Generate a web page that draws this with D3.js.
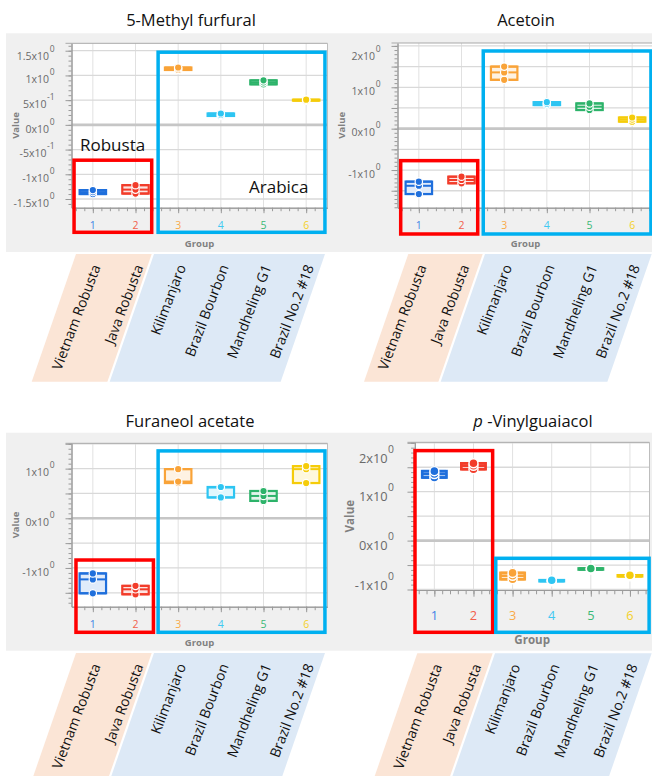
<!DOCTYPE html>
<html>
<head>
<meta charset="utf-8">
<script src="https://cdn.jsdelivr.net/npm/d3@7/dist/d3.min.js"></script>
<style>
  html, body { margin: 0; padding: 0; background: #ffffff; }
  svg { display: block; font-family: "Open Sans", "Noto Sans", sans-serif; }
</style>
</head>
<body>
<svg id="chart" width="652" height="776"></svg>
<script>
// ---- data -------------------------------------------------------------
const groups = [1, 2, 3, 4, 5, 6];
const groupNames = ["Vietnam Robusta", "Java Robusta", "Kilimanjaro",
                    "Brazil Bourbon", "Mandheling G1", "Brazil No.2 #18"];
const groupColors = ["#1f6fdc", "#f23c2a", "#f9a338", "#2ec5f2", "#2db36a", "#f5cc0a"];
const labelColors = ["#3f82e6", "#f2604c", "#f9aa48", "#3fc9f2", "#3bb977", "#f4d02a"];

// replicate values (autoscaled) per group
const methylFurfural = [[-1.32, -1.36, -1.40], [-1.22, -1.31, -1.39], [1.11, 1.14, 1.16],
                        [0.18, 0.20, 0.23], [0.82, 0.86, 0.90], [0.49, 0.50, 0.51]];
const acetoin = [[-1.28, -1.38, -1.58], [-1.16, -1.24, -1.32], [1.18, 1.36, 1.50],
                 [0.57, 0.60, 0.64], [0.45, 0.53, 0.61], [0.17, 0.22, 0.27]];
const furaneolAcetate = [[-1.11, -1.23, -1.51], [-1.36, -1.43, -1.53], [0.71, 0.74, 0.99],
                         [0.42, 0.62, 0.63], [0.35, 0.45, 0.55], [0.71, 0.99, 1.05]];
const vinylguaiacol = [[1.29, 1.36, 1.42], [1.46, 1.53, 1.58], [-0.66, -0.72, -0.79],
                       [-0.83, -0.82, -0.81], [-0.59, -0.58, -0.57], [-0.73, -0.72, -0.71]];

// y tick values and their "mantissa x10^exponent" labels
const mfTicks = [-1.5, -1, -0.5, 0, 0.5, 1, 1.5];
const mfTickLabels = [["-1.5", "0"], ["-1", "0"], ["-5", "-1"], ["0", "0"], ["5", "-1"], ["1", "0"], ["1.5", "0"]];
const acTicks = [-1, 0, 1, 2];
const acTickLabels = [["-1", "0"], ["0", "0"], ["1", "0"], ["2", "0"]];
const faTicks = [-1, 0, 1];
const faTickLabels = [["-1", "0"], ["0", "0"], ["1", "0"]];
const vgTicks = [-1, 0, 1, 2];
const vgTickLabels = [["-1", "0"], ["0", "0"], ["1", "0"], ["2", "0"]];

// ---- panels -----------------------------------------------------------
const panels = [
  { title: [["", "5-Methyl furfural"]], titleX: 191, titleY: 26,
    values: methylFurfural, ticks: mfTicks, tickLabels: mfTickLabels,
    grid: [-1.5, -1, -0.5, 0, 0.5, 1, 1.5], domain: [-1.676, 1.65],
    l: 71.5, r: 327.5, t: 43.3, b: 207.7, k: 1,
    red: [0.56, 2.38, -0.715], blue: [2.53, 6.44, 1.47], boxBottom: 232.3,
    strip: { top: 254, p0: 76, p1: 151.7, b0: 154, b1: 325 },
    notes: true },
  { title: [["", "Acetoin"]], titleX: 526, titleY: 26,
    values: acetoin, ticks: acTicks, tickLabels: acTickLabels,
    grid: [-1.5, -1, -0.5, 0, 0.5, 1, 1.5, 2], domain: [-1.91, 2.07],
    l: 397.5, r: 653.5, t: 43, b: 207.7, k: 1,
    red: [0.575, 2.38, -0.773], blue: [2.51, 6.44, 1.877], boxBottom: 234,
    strip: { top: 254, p0: 408.3, p1: 482.7, b0: 485, b1: 651.7 } },
  { title: [["", "Furaneol acetate"]], titleX: 190, titleY: 427,
    values: furaneolAcetate, ticks: faTicks, tickLabels: faTickLabels,
    grid: [-1.5, -1, -0.5, 0, 0.5, 1, 1.5], domain: [-1.78, 1.51],
    l: 71.5, r: 327.5, t: 443.3, b: 606.7, k: 1,
    red: [0.605, 2.42, -0.84], blue: [2.53, 6.44, 1.357], boxBottom: 632.3,
    strip: { top: 653, p0: 76, p1: 151.7, b0: 154, b1: 325 } },
  { title: [["italic", "p"], ["", " -Vinylguaiacol"]], titleX: 533, titleY: 427,
    values: vinylguaiacol, ticks: vgTicks, tickLabels: vgTickLabels,
    grid: [-1, -0.5, 0, 0.5, 1, 1.5, 2], domain: [-1.01, 2.01],
    l: 414.8, r: 649.5, t: 442.3, b: 590, k: 1.22,
    red: [0.505, 2.49, 1.84], blue: [2.57, 6.49, -0.362], boxBottom: 632.3,
    strip: { top: 653.3, p0: 417.3, p1: 492.7, b0: 495, b1: 651.7 } }
];

const svg = d3.select("#chart");

// grey chart backgrounds for both rows
svg.append("rect").attr("x", 6).attr("y", 33.3).attr("width", 646).attr("height", 218.7).attr("fill", "#f0f0f0");
svg.append("rect").attr("x", 6).attr("y", 432.7).attr("width", 646).attr("height", 218).attr("fill", "#f0f0f0");

// quartile with (n+1)p positioning, clamped to the data range
function quart(sorted, p) {
  const n = sorted.length;
  let pos = p * (n + 1);
  pos = Math.max(1, Math.min(n, pos));
  const lo = Math.floor(pos), hi = Math.ceil(pos);
  return sorted[lo - 1] + (pos - lo) * (sorted[hi - 1] - sorted[lo - 1]);
}

const slant = 44.3, stripH = 127.7;

panels.forEach(P => {
  const k = P.k;
  const g = svg.append("g");
  const x = d3.scaleLinear().domain([0.5, 6.5]).range([P.l, P.r]);
  const y = d3.scaleLinear().domain(P.domain).range([P.b, P.t]);
  const step = x(2) - x(1);

  // title
  const tt = g.append("text").attr("x", P.titleX).attr("y", P.titleY)
    .attr("text-anchor", "middle").attr("font-size", 16.5).attr("fill", "#111");
  P.title.forEach(([style, s]) => tt.append("tspan").attr("font-style", style || null).text(s));

  // plot area
  g.append("rect").attr("x", P.l).attr("y", P.t).attr("width", P.r - P.l).attr("height", P.b - P.t)
    .attr("fill", "#ffffff");

  // vertical grid at groups
  g.append("g").selectAll("line").data(groups).join("line")
    .attr("x1", d => x(d)).attr("x2", d => x(d)).attr("y1", P.t).attr("y2", P.b)
    .attr("stroke", "#e1e1e1").attr("stroke-width", 1);
  // horizontal grid
  g.append("g").selectAll("line").data(P.grid.filter(v => v !== 0)).join("line")
    .attr("x1", P.l).attr("x2", P.r).attr("y1", d => y(d)).attr("y2", d => y(d))
    .attr("stroke", "#d9d9d9").attr("stroke-width", 1.3);
  g.append("line").attr("x1", P.l).attr("x2", P.r).attr("y1", y(0)).attr("y2", y(0))
    .attr("stroke", "#c6c6c6").attr("stroke-width", 2.6);

  // frame top / right
  g.append("line").attr("x1", P.l - 6 * k).attr("x2", P.r).attr("y1", P.t).attr("y2", P.t)
    .attr("stroke", "#a9a9a9").attr("stroke-width", 1);
  g.append("line").attr("x1", P.r).attr("x2", P.r).attr("y1", P.t).attr("y2", P.b)
    .attr("stroke", "#bdbdbd").attr("stroke-width", 1);

  // y axis: major + minor ticks
  const minorY = d3.range(Math.ceil(P.domain[0] * 10), Math.floor(P.domain[1] * 10) + 1).map(v => v / 10);
  const yMinor = g.append("g").attr("transform", `translate(${P.l},0)`)
    .call(d3.axisLeft(y).tickValues(minorY).tickSize(3 * k).tickFormat("").tickSizeOuter(0));
  const yMajor = g.append("g").attr("transform", `translate(${P.l},0)`)
    .call(d3.axisLeft(y).tickValues(P.grid).tickSize(6 * k).tickFormat("").tickSizeOuter(0));
  [yMinor, yMajor].forEach(a => {
    a.selectAll("path").attr("stroke", "#9a9a9a");
    a.selectAll("line").attr("stroke", "#9a9a9a");
  });

  // y tick labels "m x10^e"
  const fsT = 10.5 * k;
  P.ticks.forEach((v, i) => {
    const [m, e] = P.tickLabels[i];
    let cy = y(v) + 4 * k;
    cy = Math.max(cy, P.t + 13 * k);
    cy = Math.min(cy, P.b - 4 * k);
    const t = g.append("text").attr("x", P.l - 17 * k).attr("y", cy + fsT * 0.35)
      .attr("text-anchor", "end").attr("fill", "#6a6a6a").attr("font-size", fsT);
    t.append("tspan").text(m + "x10");
    t.append("tspan").attr("dy", -8 * k).attr("dx", 0.5).attr("font-size", 8.5 * k).text(e);
  });

  // x axis: major + minor ticks
  const minorX = d3.range(3, 33).map(v => v / 5).filter(v => v >= 0.5 && v <= 6.5);
  const xMinor = g.append("g").attr("transform", `translate(0,${P.b})`)
    .call(d3.axisBottom(x).tickValues(minorX).tickSize(3.5 * k).tickFormat("").tickSizeOuter(0));
  const xMajor = g.append("g").attr("transform", `translate(0,${P.b})`)
    .call(d3.axisBottom(x).tickValues(groups).tickSize(5.5 * k).tickFormat("").tickSizeOuter(0));
  [xMinor, xMajor].forEach(a => {
    a.selectAll("path").attr("stroke", "#9a9a9a");
    a.selectAll("line").attr("stroke", "#9a9a9a");
  });
  g.append("g").selectAll("text").data(groups).join("text")
    .attr("x", d => x(d)).attr("y", P.b + (k > 1 ? 25 : 17.5) + 3.7 * k)
    .attr("text-anchor", "middle").attr("font-size", 10.5 * k)
    .attr("fill", (d, i) => labelColors[i]).text(d => d);

  // axis titles
  g.append("text").attr("x", (P.l + P.r) / 2).attr("y", P.b + (k > 1 ? 49.3 : 35.6) + 3.5 * k)
    .attr("text-anchor", "middle").attr("font-size", 9.5 * k).attr("font-weight", "bold")
    .attr("fill", "#808080").text("Group");
  g.append("text")
    .attr("transform", `translate(${P.l - (k > 1 ? 61 : 53)},${(P.t + P.b) / 2}) rotate(-90)`)
    .attr("text-anchor", "middle").attr("font-size", 9.5 * k).attr("font-weight", "bold")
    .attr("fill", "#808080").text("Value");

  // box plots
  const bw = 0.62 * step;
  P.values.forEach((vals, i) => {
    const s = vals.slice().sort(d3.ascending);
    const q1 = quart(s, 0.25), q3 = quart(s, 0.75), med = d3.median(s);
    const lo = s[0], hi = s[s.length - 1];
    const cx = x(groups[i]), col = groupColors[i];
    const bg = g.append("g");
    bg.append("line").attr("x1", cx).attr("x2", cx).attr("y1", y(hi)).attr("y2", y(lo))
      .attr("stroke", col).attr("stroke-width", 2 * k);
    bg.append("rect").attr("x", cx - bw / 2).attr("y", y(q3)).attr("width", bw)
      .attr("height", Math.max(0.01, y(q1) - y(q3)))
      .attr("fill", d3.interpolateRgb("#ffffff", col)(0.14))
      .attr("stroke", col).attr("stroke-width", 2.2 * k);
    [lo, hi, med].forEach(v => bg.append("line")
      .attr("x1", cx - bw / 2).attr("x2", cx + bw / 2).attr("y1", y(v)).attr("y2", y(v))
      .attr("stroke", col).attr("stroke-width", 2 * k));
    bg.selectAll("circle").data(s).join("circle")
      .attr("cx", cx).attr("cy", d => y(d)).attr("r", 3.7 * k)
      .attr("fill", col).attr("stroke", "#ffffff").attr("stroke-width", 1.2 * k);
  });

  // group highlight frames
  const fr = (spec, color) => g.append("rect")
    .attr("x", x(spec[0])).attr("y", y(spec[2]))
    .attr("width", x(spec[1]) - x(spec[0])).attr("height", P.boxBottom - y(spec[2]))
    .attr("fill", "none").attr("stroke", color).attr("stroke-width", 3.5);
  fr(P.red, "#ff0000");
  fr(P.blue, "#00b0f0");

  if (P.notes) {
    g.append("text").attr("x", 80).attr("y", 150.7).attr("font-size", 17).attr("fill", "#111").text("Robusta");
    g.append("text").attr("x", 249).attr("y", 193.3).attr("font-size", 17).attr("fill", "#111").text("Arabica");
  }

  // slanted name strips below the chart
  const S = P.strip;
  const para = (a, b) => `M${a},${S.top} L${b},${S.top} L${b - slant},${S.top + stripH} L${a - slant},${S.top + stripH} Z`;
  g.append("path").attr("d", para(S.p0, S.p1)).attr("fill", "#fbe5d6");
  g.append("path").attr("d", para(S.b0, S.b1)).attr("fill", "#dde9f6");
  g.append("g").selectAll("text").data(groupNames).join("text")
    .attr("transform", (d, i) => `translate(${x(groups[i]) + 8},${S.top + 13}) rotate(-69)`)
    .attr("text-anchor", "end").attr("font-size", 14).attr("fill", "#111").text(d => d);
});
</script>
</body>
</html>
